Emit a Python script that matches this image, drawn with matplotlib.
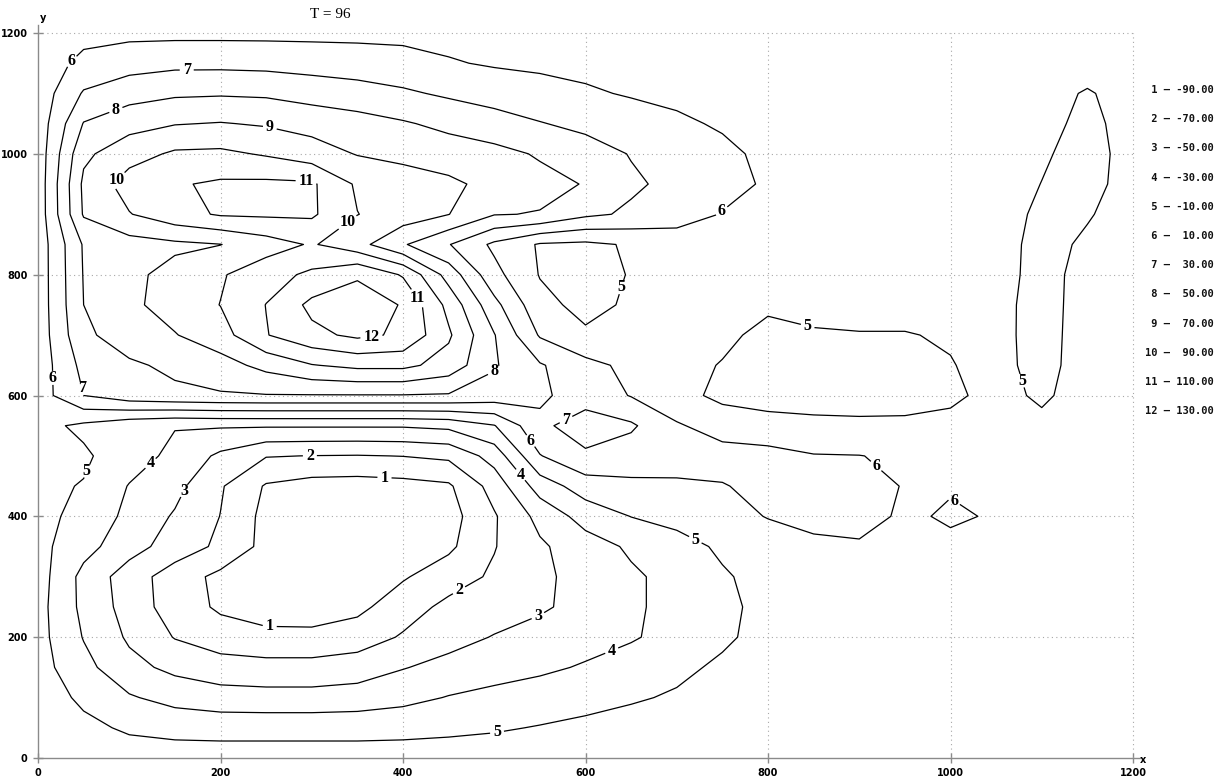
import matplotlib
matplotlib.use('Agg')
import matplotlib.pyplot as plt
import numpy as np

# grid nodes of the field (chart units)
grid_x = [0, 50, 100, 150, 200, 250, 300, 350, 400, 450, 500, 550, 600,
          650, 700, 750, 800, 850, 900, 950, 1000, 1050, 1100, 1150, 1200]
grid_y = [0, 50, 100, 150, 200, 250, 300, 350, 400, 450, 500, 550, 600,
          650, 700, 750, 800, 850, 900, 950, 1000, 1050, 1100, 1150, 1200]

# field, in contour-index units (row = one y value)
z_0 = [5.6, 5.55, 5.5, 5.45, 5.45, 5.45, 5.45, 5.45, 5.45, 5.45, 5.5, 5.5, 5.55, 5.55, 5.55, 5.55, 5.55, 5.55, 5.55, 5.55, 5.55, 5.55, 5.55, 5.55, 5.55]
z_50 = [5.6, 5.25, 4.85, 4.7, 4.65, 4.65, 4.65, 4.65, 4.7, 4.8, 4.9, 5.05, 5.2, 5.35, 5.45, 5.5, 5.5, 5.5, 5.5, 5.5, 5.5, 5.5, 5.5, 5.5, 5.5]
z_100 = [5.55, 4.8, 4.1, 3.65, 3.4, 3.35, 3.35, 3.45, 3.7, 4.05, 4.3, 4.5, 4.7, 4.9, 5.1, 5.35, 5.5, 5.5, 5.5, 5.5, 5.5, 5.5, 5.5, 5.5, 5.5]
z_150 = [5.4, 4.3, 3.3, 2.75, 2.45, 2.35, 2.35, 2.5, 2.95, 3.3, 3.55, 3.8, 4.1, 4.45, 4.8, 5.15, 5.4, 5.5, 5.5, 5.5, 5.5, 5.5, 5.5, 5.5, 5.5]
z_200 = [5.35, 3.95, 2.85, 1.95, 1.45, 1.25, 1.25, 1.5, 2.1, 2.65, 3.05, 3.4, 3.6, 3.9, 4.35, 4.85, 5.3, 5.45, 5.5, 5.5, 5.5, 5.5, 5.5, 5.5, 5.5]
z_250 = [5.35, 3.75, 2.6, 1.5, 0.85, 0.55, 0.5, 0.75, 1.55, 2.25, 2.55, 2.85, 3.35, 3.85, 4.3, 4.8, 5.25, 5.45, 5.5, 5.5, 5.5, 5.5, 5.5, 5.5, 5.5]
z_300 = [5.45, 3.7, 2.5, 1.5, 0.75, 0.45, 0.4, 0.55, 0.9, 1.55, 2.15, 2.8, 3.35, 3.85, 4.3, 4.9, 5.3, 5.5, 5.6, 5.55, 5.5, 5.5, 5.5, 5.5, 5.5]
z_350 = [5.3, 4.35, 3.4, 2.55, 1.8, 0.7, 0.35, 0.3, 0.45, 0.8, 1.95, 2.85, 3.55, 4.15, 4.65, 5.15, 5.45, 5.75, 5.85, 5.75, 5.75, 5.7, 5.6, 5.55, 5.5]
z_400 = [5.15, 4.85, 3.7, 2.9, 1.98, 0.7, 0.4, 0.35, 0.4, 0.6, 1.9, 3.3, 4.4, 5.02, 5.3, 5.6, 6.05, 6.35, 6.45, 5.8, 6.15, 5.9, 5.7, 5.6, 5.55]
z_450 = [5.2, 4.95, 3.95, 3.3, 2.1, 0.9, 0.6, 0.55, 0.65, 0.85, 2.4, 4.45, 5.5, 5.8, 5.85, 5.95, 6.25, 6.35, 6.35, 5.95, 5.9, 5.8, 5.65, 5.55, 5.55]
z_500 = [5.4, 5.15, 4.45, 3.75, 2.8, 2.05, 1.98, 1.95, 2.02, 2.2, 3.4, 5.95, 6.85, 6.5, 6.4, 6.35, 6.3, 6.05, 6.02, 5.85, 5.8, 5.7, 5.6, 5.55, 5.55]
z_550 = [5.3, 4.8, 4.3, 4.05, 4.1, 4.1, 4.1, 4.1, 4.1, 4.25, 4.95, 6.8, 7.45, 7.15, 6.1, 5.6, 5.4, 5.25, 5.2, 5.2, 5.35, 5.5, 5.3, 5.55, 5.6]
z_600 = [5.5, 7.0, 7.6, 7.8, 7.9, 7.95, 7.95, 7.95, 7.95, 7.9, 7.6, 7.15, 6.6, 5.95, 5.35, 4.75, 4.55, 4.55, 4.55, 4.6, 4.75, 5.4, 4.8, 5.55, 5.6]
z_650 = [5.4, 7.3, 7.85, 8.2, 8.6, 9.3, 9.95, 10.25, 10.25, 9.6, 8.1, 7.1, 6.3, 5.75, 5.3, 4.95, 4.6, 4.55, 4.6, 4.7, 4.95, 5.35, 4.6, 5.55, 5.6]
z_700 = [5.4, 7.8, 8.5, 8.95, 9.6, 10.95, 11.75, 12.2, 11.85, 10.15, 8.05, 5.9, 5.15, 5.25, 5.35, 5.2, 4.75, 4.9, 4.95, 4.95, 5.1, 5.35, 4.55, 5.55, 5.6]
z_750 = [5.4, 8.0, 8.8, 9.4, 10.02, 11.02, 12.25, 12.4, 11.95, 9.7, 7.3, 5.3, 4.7, 5.15, 5.4, 5.45, 5.15, 5.3, 5.35, 5.35, 5.4, 5.4, 4.5, 5.55, 5.6]
z_800 = [5.4, 8.05, 8.75, 9.35, 9.9, 10.6, 11.2, 11.9, 10.9, 8.6, 6.3, 4.95, 4.65, 5.05, 5.4, 5.5, 5.55, 5.55, 5.55, 5.55, 5.55, 5.5, 4.55, 5.45, 5.55]
z_850 = [5.4, 8.1, 8.6, 8.8, 8.98, 9.55, 10.1, 9.35, 8.1, 7.05, 5.8, 4.9, 4.8, 5.1, 5.4, 5.5, 5.55, 5.55, 5.55, 5.55, 5.55, 5.5, 4.6, 5.2, 5.55]
z_900 = [5.4, 9.1, 9.95, 10.65, 11.1, 11.15, 11.15, 10.02, 9.55, 9.02, 8.05, 7.95, 7.2, 6.85, 6.5, 5.95, 5.75, 5.65, 5.6, 5.6, 5.6, 5.55, 4.75, 4.9, 5.55]
z_950 = [5.4, 9.2, 10.45, 10.9, 11.15, 11.2, 11.15, 9.85, 9.55, 9.2, 8.7, 8.3, 7.95, 7.15, 6.75, 6.4, 5.85, 5.7, 5.65, 5.6, 5.6, 5.55, 4.98, 4.6, 5.5]
z_1000 = [5.4, 8.8, 9.6, 10.15, 10.2, 9.9, 9.45, 8.95, 8.7, 8.5, 8.3, 7.9, 7.45, 6.95, 6.6, 6.2, 5.8, 5.7, 5.65, 5.6, 5.6, 5.5, 5.15, 4.55, 5.45]
z_1050 = [5.4, 8.05, 8.65, 8.95, 9.05, 8.9, 8.65, 8.4, 8.1, 7.75, 7.4, 7.05, 6.75, 6.45, 6.15, 5.9, 5.75, 5.65, 5.6, 5.6, 5.55, 5.5, 5.35, 4.7, 5.45]
z_1100 = [5.4, 7.1, 7.6, 7.85, 7.9, 7.85, 7.6, 7.4, 7.15, 6.85, 6.6, 6.35, 6.12, 5.92, 5.8, 5.7, 5.65, 5.6, 5.6, 5.6, 5.55, 5.55, 5.4, 4.9, 5.45]
z_1150 = [5.45, 6.25, 6.6, 6.75, 6.75, 6.7, 6.6, 6.5, 6.35, 6.08, 5.9, 5.82, 5.75, 5.7, 5.65, 5.6, 5.6, 5.55, 5.55, 5.55, 5.55, 5.55, 5.5, 5.5, 5.5]
z_1200 = [5.6, 5.7, 5.75, 5.75, 5.75, 5.75, 5.75, 5.75, 5.75, 5.7, 5.7, 5.65, 5.6, 5.6, 5.55, 5.55, 5.5, 5.5, 5.5, 5.5, 5.5, 5.5, 5.5, 5.5, 5.5]

field_rows = [z_0, z_50, z_100, z_150, z_200, z_250, z_300, z_350, z_400,
              z_450, z_500, z_550, z_600, z_650, z_700, z_750, z_800, z_850,
              z_900, z_950, z_1000, z_1050, z_1100, z_1150, z_1200]

# contour numbers and the values they stand for
level_ids = [1, 2, 3, 4, 5, 6, 7, 8, 9, 10, 11, 12]
level_values = [-90, -70, -50, -30, -10, 10, 30, 50, 70, 90, 110, 130]

axis_ticks = [0, 200, 400, 600, 800, 1000, 1200]
title_text = 'T = 96'

# where the contour numbers sit (chart units)
label_spots = [(30, 1164), (163, 1139), (84, 1078), (254, 1043), (87, 955),
               (294, 954), (339, 887), (413, 758), (366, 689), (751, 902),
               (641, 778), (503, 632), (13, 629), (52, 613), (575, 571),
               (538, 523), (841, 700), (1073, 622), (927, 498), (1013, 447),
               (722, 366), (525, 464), (298, 497), (380, 474), (55, 474),
               (125, 485), (163, 440), (254, 228), (465, 268), (550, 228),
               (633, 162), (503, 43)]

W, H = 1226, 780
fig = plt.figure(figsize=(W / 100, H / 100), dpi=100)
# x: 0 -> px 38, 1200 -> px 1133 ; y: 0 -> px 758, 1200 -> px 33
sx = (1133 - 38) / 1200
sy = (758 - 33) / 1200
xmax, ymax = 1208, 1213
ax = fig.add_axes([38 / W, (H - 758) / H, xmax * sx / W, ymax * sy / H])
ax.set_xlim(0, xmax)
ax.set_ylim(0, ymax)

grey = '#8a8a8a'
ax.vlines(axis_ticks[1:], 0, 1200, colors='#a8a8a8', linestyles=(0, (1, 3)), linewidth=0.8)
ax.hlines(axis_ticks[1:], 0, 1200, colors='#a8a8a8', linestyles=(0, (1, 3)), linewidth=0.8)

field = np.array(field_rows)
cs = ax.contour(grid_x, grid_y, field, levels=level_ids, colors='black', linewidths=0.9)
with plt.rc_context({'font.family': 'Liberation Serif', 'font.weight': 'bold'}):
    labels = ax.clabel(cs, fmt={lv: str(lv) for lv in level_ids}, inline=True,
                       inline_spacing=3, fontsize=11.5, manual=label_spots)
for t in labels:
    t.set_rotation(0)

for side in ('top', 'right'):
    ax.spines[side].set_visible(False)
for side in ('left', 'bottom'):
    ax.spines[side].set_color(grey)
    ax.spines[side].set_linewidth(1.0)

ax.set_xticks(axis_ticks)
ax.set_yticks(axis_ticks)
ax.set_xticklabels([str(t) for t in axis_ticks])
ax.set_yticklabels([str(t) for t in axis_ticks])
ax.tick_params(direction='inout', length=7, width=1, color=grey, pad=4)
for t in ax.get_xticklabels() + ax.get_yticklabels():
    t.set_fontfamily('DejaVu Sans')
    t.set_fontweight('bold')
    t.set_fontsize(7)

fig.text(43 / W, 1 - 18 / H, 'y', ha='center', va='center', fontsize=7,
         fontweight='bold', family='DejaVu Sans')
fig.text(1143 / W, 1 - 760 / H, 'x', ha='center', va='center', fontsize=7,
         fontweight='bold', family='DejaVu Sans')
fig.text(330 / W, 1 - 15 / H, title_text, ha='center', va='center',
         fontsize=11, family='Liberation Serif')

for i, (lid, val) in enumerate(zip(level_ids, level_values)):
    fig.text(1214 / W, 1 - (90 + 29.2 * i) / H, f'{lid:>2} \u2014 {val:>6.2f}',
             ha='right', va='center', fontsize=7.5, fontweight='bold',
             family='DejaVu Sans Mono', color='#111111')

fig.savefig('out.png', dpi=100)
